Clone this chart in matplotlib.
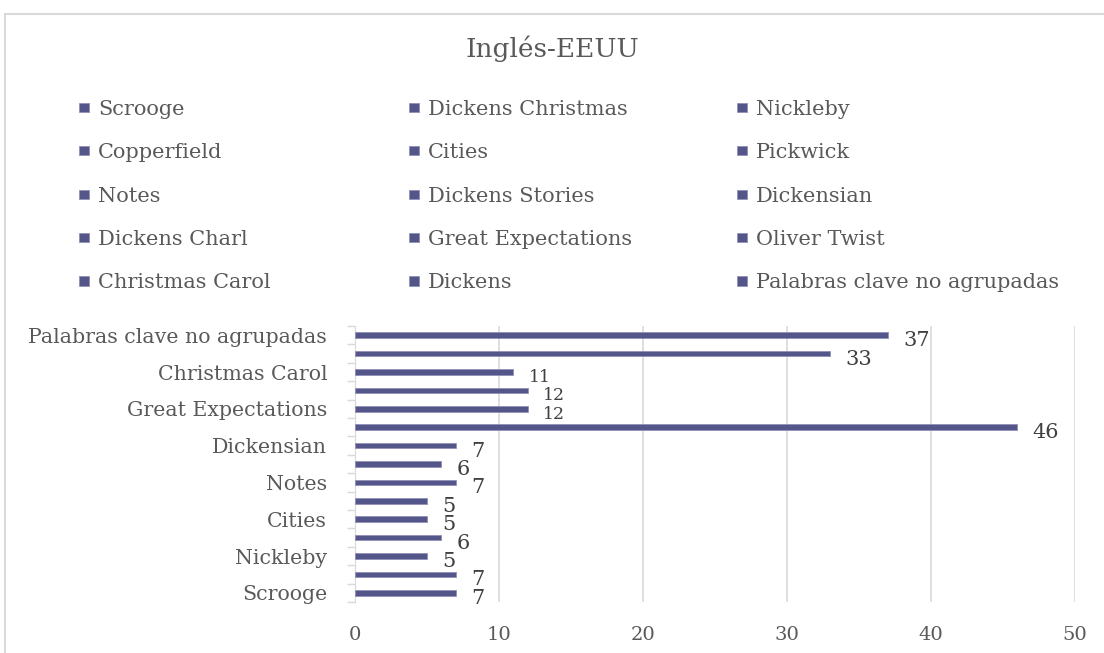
import matplotlib
matplotlib.use("Agg")
import matplotlib.pyplot as plt
from matplotlib.patches import Rectangle

plt.rcParams["font.family"] = ["DejaVu Serif"]

# data (bottom to top, same order as the legend)
categories = ["Scrooge", "Dickens Christmas", "Nickleby", "Copperfield", "Cities",
              "Pickwick", "Notes", "Dickens Stories", "Dickensian", "Dickens Charl",
              "Great Expectations", "Oliver Twist", "Christmas Carol", "Dickens",
              "Palabras clave no agrupadas"]
values = [7, 7, 5, 6, 5, 5, 7, 6, 7, 46, 12, 12, 11, 33, 37]
x_ticks = [0, 10, 20, 30, 40, 50]
title = "Inglés-EEUU"

BAR = "#545689"
TXT = "#595959"
GRID = "#d9d9d9"

fig = plt.figure(figsize=(11.04, 6.53), dpi=100)
ax = fig.add_axes([355 / 1104, 1 - 602 / 653, 720 / 1104, 276 / 653])

ypos = list(range(len(categories)))
bars = ax.barh(ypos, values, height=0.3, color=BAR, edgecolor="#8f90b5",
               linewidth=0.6, zorder=3)

for y, v in zip(ypos, values):
    size = 12.5 if 10 <= v < 20 else 15
    ax.annotate(str(v), (v, y), xytext=(11, -4), textcoords="offset points",
                ha="left", va="center", fontsize=size, color="#404040", zorder=4)

ax.set_xlim(0, 50)
ax.set_ylim(-0.5, len(categories) - 0.5)
ax.set_xticks(x_ticks)
ax.set_xticklabels([str(t) for t in x_ticks])
ax.set_yticks(ypos[::2])
ax.set_yticklabels(categories[::2])
ax.set_yticks([i - 0.5 for i in range(len(categories) + 1)], minor=True)
ax.tick_params(axis="y", which="major", length=0, pad=20, labelsize=14.8, labelcolor=TXT)
ax.tick_params(axis="y", which="minor", length=6, color=GRID, width=1)
ax.tick_params(axis="x", length=0, pad=17, labelsize=14, labelcolor=TXT)
ax.grid(axis="x", color=GRID, linewidth=1.2, zorder=0)
for side in ["top", "right", "bottom"]:
    ax.spines[side].set_visible(False)
ax.spines["left"].set_color(GRID)

# outer chart border
fig.add_artist(Rectangle((5 / 1104, -0.1), 1.2, 1 - 14 / 653 + 0.1,
                         transform=fig.transFigure, fill=False,
                         edgecolor=GRID, linewidth=1.5))

fig.text(0.5, 1 - 49 / 653, title, ha="center", va="center", fontsize=19, color=TXT)

# legend: three columns, filled row by row
handles = list(bars.patches)
col_x = [79, 409, 737]
for c in range(3):
    idx = list(range(c, len(categories), 3))
    fig.legend([handles[i] for i in idx], [categories[i] for i in idx],
               loc="upper left", bbox_to_anchor=(col_x[c] / 1104, 1 - 100 / 653),
               frameon=False, fontsize=15, labelcolor=TXT, handlelength=0.5,
               handleheight=0.3, handletextpad=0.4, labelspacing=1.17,
               borderaxespad=0, borderpad=0)

fig.savefig("out.png", dpi=100)
